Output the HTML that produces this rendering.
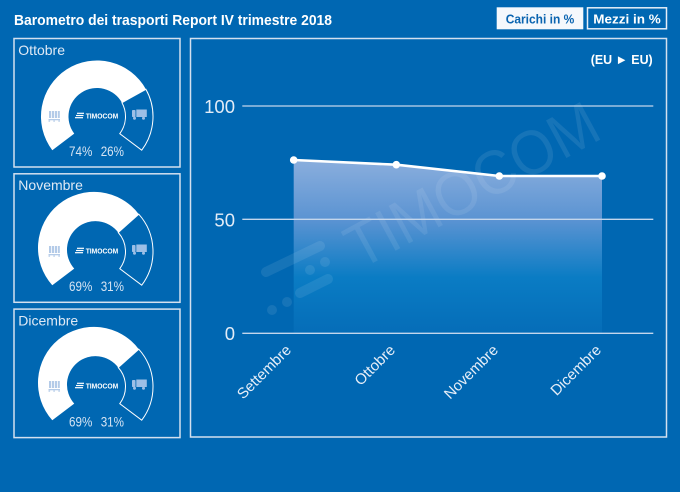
<!DOCTYPE html>
<html>
<head>
<meta charset="utf-8">
<style>
  html,body{margin:0;padding:0;background:#0067b2;}
  svg{display:block;}
  text{font-family:"Liberation Sans",Arial,sans-serif;}
</style>
</head>
<body>
<svg width="680" height="492" viewBox="0 0 680 492" xmlns="http://www.w3.org/2000/svg">
  <defs>
    <linearGradient id="fillg" x1="0" y1="160" x2="0" y2="333" gradientUnits="userSpaceOnUse">
      <stop offset="0" stop-color="#8aaedd"/>
      <stop offset="0.35" stop-color="#5a93d2"/>
      <stop offset="0.68" stop-color="#0a7cc4"/>
      <stop offset="1" stop-color="#056db8"/>
    </linearGradient>
  </defs>
  <rect x="0" y="0" width="680" height="492" fill="#0067b2"/>

  <!-- Title -->
  <text x="14" y="25" font-size="14.5" font-weight="bold" fill="#ffffff" textLength="318" lengthAdjust="spacingAndGlyphs">Barometro dei trasporti Report IV trimestre 2018</text>

  <!-- Buttons -->
  <rect x="496.7" y="7.3" width="86.6" height="22" fill="#f5f8fc"/>
  <text x="505.7" y="23.5" font-size="13" font-weight="bold" fill="#0a64b0" textLength="68.6" lengthAdjust="spacingAndGlyphs">Carichi in %</text>
  <rect x="587.5" y="7.8" width="79" height="21" fill="none" stroke="#e6eef8" stroke-width="1.5"/>
  <text x="593.3" y="23.5" font-size="13" font-weight="bold" fill="#ffffff" textLength="67.4" lengthAdjust="spacingAndGlyphs">Mezzi in %</text>

  <!-- Left boxes -->
  <g fill="none" stroke="#d3e0ef" stroke-width="1.5">
    <rect x="14" y="38.5" width="166" height="128.5"/>
    <rect x="14" y="173.8" width="166" height="128.5"/>
    <rect x="14" y="309.1" width="166" height="128.5"/>
    <rect x="190.5" y="38.5" width="476" height="398.5"/>
  </g>

  <g font-size="14" fill="#dfe9f5">
    <text x="18.3" y="55">Ottobre</text>
    <text x="18.3" y="190">Novembre</text>
    <text x="18.3" y="325.5">Dicembre</text>
  </g>

  <!-- Gauge Ottobre -->
  <path d="M52.28,150.2 A56,56 0 1 1 145.96,89.32 L121.92,102.67 A28.5,28.5 0 1 0 74.24,133.65 Z" fill="#ffffff"/>
  <path d="M145.96,89.32 A56,56 0 0 1 141.72,150.2 L119.76,133.65 A28.5,28.5 0 0 0 121.92,102.67 Z" fill="none" stroke="#ffffff" stroke-width="1"/>
  <!-- Gauge Novembre -->
  <path d="M52.28,285.2 A56,56 0 1 1 138.78,214.22 L118.26,232.52 A28.5,28.5 0 1 0 74.24,268.65 Z" fill="#ffffff"/>
  <path d="M138.78,214.22 A56,56 0 0 1 141.72,285.2 L119.76,268.65 A28.5,28.5 0 0 0 118.26,232.52 Z" fill="none" stroke="#ffffff" stroke-width="1"/>
  <!-- Gauge Dicembre -->
  <path d="M52.28,420.2 A56,56 0 1 1 138.78,349.22 L118.26,367.52 A28.5,28.5 0 1 0 74.24,403.65 Z" fill="#ffffff"/>
  <path d="M138.78,349.22 A56,56 0 0 1 141.72,420.2 L119.76,403.65 A28.5,28.5 0 0 0 118.26,367.52 Z" fill="none" stroke="#ffffff" stroke-width="1"/>

  <g id="g1">
    <!-- pallet -->
    <g fill="#b4cbe8">
      <rect x="49" y="111" width="2.2" height="7"/>
      <rect x="52" y="111" width="2.2" height="7"/>
      <rect x="55" y="111" width="2.2" height="7"/>
      <rect x="58" y="111" width="1.8" height="7"/>
      <rect x="48.5" y="119" width="11.5" height="1.3"/>
      <rect x="48.5" y="120.5" width="1.6" height="1.2"/>
      <rect x="53.3" y="120.5" width="1.6" height="1.2"/>
      <rect x="58.3" y="120.5" width="1.6" height="1.2"/>
    </g>
    <!-- truck -->
    <g fill="#9dbfe6">
      <rect x="132" y="110" width="3.5" height="7" rx="0.8"/>
      <rect x="136.3" y="109.5" width="10.5" height="7.5"/>
      <circle cx="134.5" cy="118.2" r="1.5"/>
      <circle cx="143.5" cy="118.2" r="1.5"/>
    </g>
    <!-- logo -->
    <g stroke="#ffffff" stroke-width="1.2">
      <line x1="77" y1="113.3" x2="84" y2="113.3"/>
      <line x1="76" y1="115.5" x2="83.5" y2="115.5"/>
      <line x1="75" y1="117.7" x2="83" y2="117.7"/>
    </g>
    <text x="85.7" y="118.6" font-size="7" font-weight="bold" fill="#ffffff" textLength="32.6" lengthAdjust="spacingAndGlyphs">TIMOCOM</text>
  </g>
  <use href="#g1" transform="translate(0,135)"/>
  <use href="#g1" transform="translate(0,270)"/>

  <!-- percentages -->
  <g font-size="14" fill="#d6e4f3">
    <text x="69" y="156" textLength="23.3" lengthAdjust="spacingAndGlyphs">74%</text>
    <text x="100.7" y="156" textLength="23.3" lengthAdjust="spacingAndGlyphs">26%</text>
    <text x="69" y="291" textLength="23.3" lengthAdjust="spacingAndGlyphs">69%</text>
    <text x="100.7" y="291" textLength="23.3" lengthAdjust="spacingAndGlyphs">31%</text>
    <text x="69" y="426.3" textLength="23.3" lengthAdjust="spacingAndGlyphs">69%</text>
    <text x="100.7" y="426.3" textLength="23.3" lengthAdjust="spacingAndGlyphs">31%</text>
  </g>

  <!-- Main chart -->
  <text x="590.7" y="63.8" font-size="13" font-weight="bold" fill="#ffffff" textLength="62" lengthAdjust="spacingAndGlyphs">(EU ► EU)</text>

  <!-- area -->
  <path d="M293.7,160 L396.3,164.7 L499.3,176 L602,176 L602,333.3 L293.7,333.3 Z" fill="url(#fillg)"/>

  <!-- watermark (over the fill) -->
  <g fill="#ffffff" fill-opacity="0.085">
    <text x="360" y="270" font-size="62" transform="rotate(-28.5 360 270)" textLength="278" lengthAdjust="spacingAndGlyphs">TIMOCOM</text>
  </g>
  <g stroke="#ffffff" stroke-opacity="0.085" stroke-linecap="round" stroke-width="10" fill="none">
    <line x1="266" y1="272" x2="320" y2="246"/>
    <line x1="300" y1="293" x2="328" y2="279"/>
  </g>
  <g fill="#ffffff" fill-opacity="0.085">
    <circle cx="310" cy="270" r="5"/>
    <circle cx="325" cy="262" r="5"/>
    <circle cx="272" cy="310" r="5"/>
    <circle cx="287" cy="302" r="5"/>
  </g>

  <!-- gridlines -->
  <g stroke="#c3d6ec" stroke-width="1.3">
    <line x1="242.3" y1="106" x2="653.3" y2="106"/>
    <line x1="242.3" y1="219.3" x2="653.3" y2="219.3"/>
    <line x1="242.3" y1="333.3" x2="653.3" y2="333.3"/>
  </g>
  <g font-size="18.5" fill="#e3ecf7" text-anchor="end">
    <text x="235" y="112.8">100</text>
    <text x="235" y="226.4">50</text>
    <text x="235" y="340.2">0</text>
  </g>

  <!-- line -->
  <polyline points="293.7,160 396.3,164.7 499.3,176 602,176" fill="none" stroke="#ffffff" stroke-width="2.6" stroke-linejoin="round"/>
  <g fill="#ffffff">
    <circle cx="293.7" cy="160" r="3.8"/>
    <circle cx="396.3" cy="164.7" r="3.8"/>
    <circle cx="499.3" cy="176" r="3.8"/>
    <circle cx="602" cy="176" r="3.8"/>
  </g>

  <!-- x labels -->
  <g font-size="15" fill="#e6eef8" text-anchor="end">
    <text x="292" y="351" transform="rotate(-45 292 351)">Settembre</text>
    <text x="396" y="351" transform="rotate(-45 396 351)">Ottobre</text>
    <text x="499" y="351" transform="rotate(-45 499 351)">Novembre</text>
    <text x="602" y="351" transform="rotate(-45 602 351)">Dicembre</text>
  </g>
</svg>
</body>
</html>
